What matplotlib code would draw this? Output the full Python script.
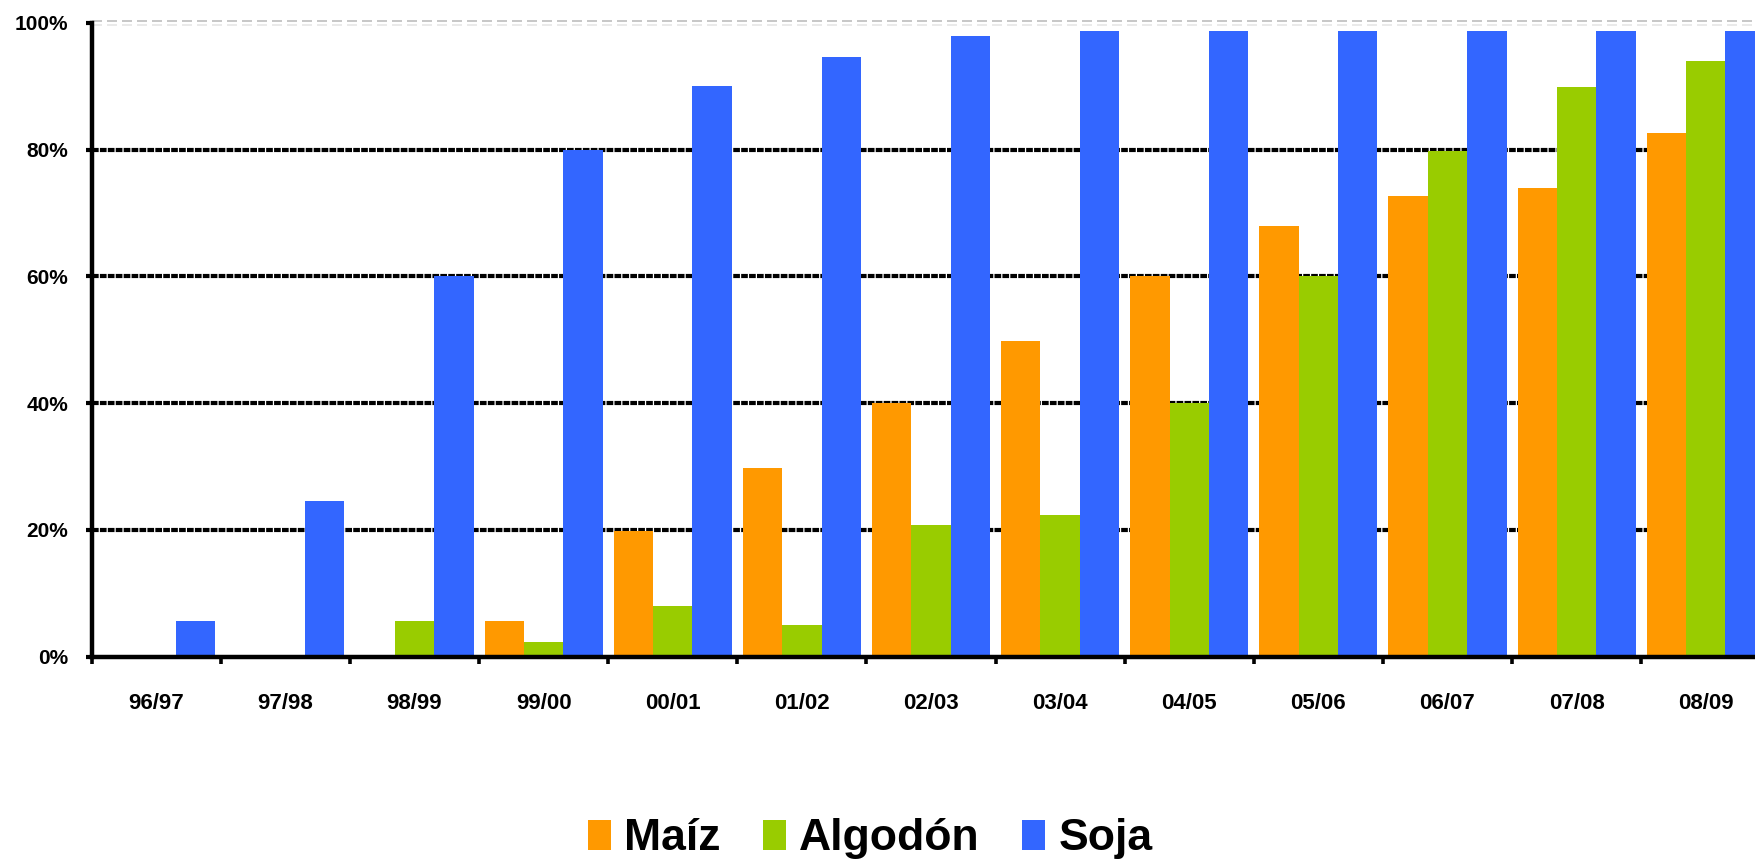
import matplotlib
matplotlib.use("Agg")
import matplotlib.pyplot as plt
import matplotlib.transforms as mtransforms
from matplotlib.patches import Patch
import numpy as np

campaigns = ["96/97", "97/98", "98/99", "99/00", "00/01", "01/02", "02/03",
             "03/04", "04/05", "05/06", "06/07", "07/08", "08/09"]
maiz = [0, 0, 0, 5.6, 19.8, 29.7, 40, 49.8, 60, 68, 72.7, 73.9, 82.7]
algodon = [0, 0, 5.6, 2.3, 8, 5, 20.8, 22.4, 40, 60, 79.8, 89.9, 94]
soja = [5.6, 24.6, 60, 80, 90, 94.7, 98, 98.8, 98.8, 98.8, 98.8, 98.8, 98.8]

series_names = ["Maíz", "Algodón", "Soja"]
series_colors = ["#FF9900", "#99CC00", "#3366FF"]
y_ticks = [0, 20, 40, 60, 80, 100]

plt.rcParams["font.family"] = ["Liberation Sans", "DejaVu Sans"]
plt.rcParams["font.weight"] = "bold"

fig = plt.figure(figsize=(17.56, 8.63), dpi=100)
ax = fig.add_axes([0.05222, 0.23905, 0.95592, 0.7343])

n = len(campaigns)
x = np.arange(n) + 0.5
w = 0.305
for k, (vals, col) in enumerate(zip([maiz, algodon, soja], series_colors)):
    ax.bar(x + (k - 1) * w, vals, width=w, color=col, edgecolor="none",
           zorder=3)

ax.set_xlim(0, n)
ax.set_ylim(0, 100)

# horizontal gridlines: heavy black dashes, light grey double line at the top
for yv in y_ticks[1:-1]:
    ax.axhline(yv, color="black", lw=3.0, ls=(0, (1.6, 0.3)), zorder=1)
top = y_ticks[-1]
for dy, col in [(2, "#bdbdbd"), (-2, "#e6e6e6")]:
    tr = ax.get_yaxis_transform() + mtransforms.ScaledTranslation(
        0, dy / 100, fig.dpi_scale_trans)
    ax.plot([0, 1], [top, top], color=col, lw=1.2, ls=(0, (6, 3)),
            zorder=1, clip_on=False, transform=tr)

for s in ["top", "right"]:
    ax.spines[s].set_visible(False)
for s in ["left", "bottom"]:
    ax.spines[s].set_linewidth(3.2)
    ax.spines[s].set_color("black")
    ax.spines[s].set_zorder(4)

ax.set_yticks(y_ticks)
ax.set_yticklabels([f"{v}%" for v in y_ticks])
ax.tick_params(axis="y", direction="out", length=4, width=3, pad=13,
               labelsize=15)

ax.set_xticks(np.arange(n + 1))
ax.set_xticklabels([])
ax.tick_params(axis="x", which="major", direction="out", length=5, width=2.6)
ax.set_xticks(x, minor=True)
ax.set_xticklabels(campaigns, minor=True)
ax.tick_params(axis="x", which="minor", length=0, pad=26, labelsize=16)

handles = [Patch(facecolor=c, edgecolor="none", label=l)
           for l, c in zip(series_names, series_colors)]
fig.legend(handles=handles, loc="center", ncol=3, frameon=False,
           bbox_to_anchor=(0.4955, 0.028), fontsize=32,
           handlelength=0.52, handleheight=0.65, handletextpad=0.3,
           columnspacing=0.95, borderaxespad=0, borderpad=0)

fig.savefig("out.png", dpi=100)
